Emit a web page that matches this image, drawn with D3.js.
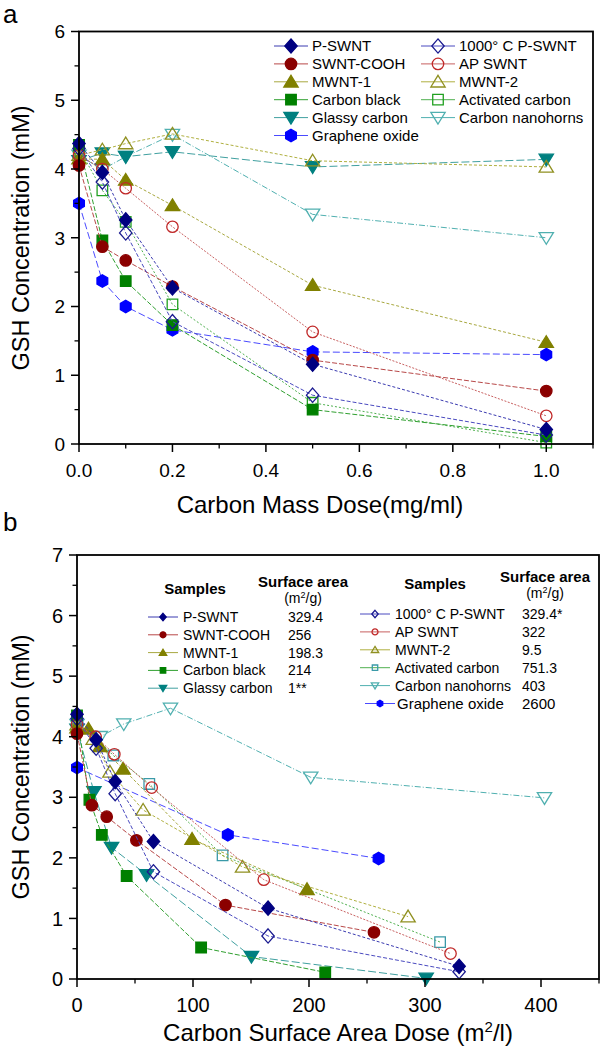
<!DOCTYPE html>
<html><head><meta charset="utf-8">
<script src="https://cdn.jsdelivr.net/npm/d3@7"></script>
<style>body{margin:0;background:#fff}svg{display:block}text{font-family:"Liberation Sans",Arial,Helvetica,sans-serif}</style>
</head><body><svg id="c" width="602" height="1050" font-family="Liberation Sans, Arial, sans-serif"></svg>
<script>
// ---------- DATA ----------
const seriesNames = ["P-SWNT","1000° C P-SWNT","SWNT-COOH","AP SWNT","MWNT-1","MWNT-2","Carbon black","Activated carbon","Glassy carbon","Carbon nanohorns","Graphene oxide"];
// panel a: x = carbon mass dose (mg/ml)
const massDose = [0, 0.05, 0.1, 0.2, 0.5, 1.0];
const aPSWNT     = [4.37, 3.95, 3.26, 2.27, 1.16, 0.21];
const aPSWNT1000 = [4.30, 3.81, 3.07, 1.78, 0.71, 0.13];
const aCOOH      = [4.05, 2.87, 2.67, 2.29, 1.22, 0.77];
const aAPSWNT    = [4.20, 4.00, 3.72, 3.16, 1.63, 0.41];
const aMWNT1     = [4.15, 4.14, 3.84, 3.47, 2.31, 1.48];
const aMWNT2     = [4.20, 4.28, 4.37, 4.51, 4.12, 4.03];
const aCBlack    = [4.35, 2.96, 2.37, 1.73, 0.50, 0.11];
const aActC      = [4.30, 3.69, 3.23, 2.03, 0.60, 0.02];
const aGlassy    = [4.12, 4.23, 4.18, 4.25, 4.03, 4.14];
const aHorns     = [4.20, 3.99, 4.18, 4.50, 3.34, 3.00];
const aGO        = [3.50, 2.37, 2.00, 1.66, 1.34, 1.30];
// panel b: x = carbon surface area dose (m2/l), y = GSH (mM)
const bxPSWNT = [0, 16.5, 32.9, 65.9, 164.7, 329.4];
const byPSWNT = [4.37, 3.95, 3.26, 2.27, 1.17, 0.21];
const bxPSWNT1000 = [0, 16.5, 32.9, 65.9, 164.7, 329.4];
const byPSWNT1000 = [4.30, 3.81, 3.06, 1.77, 0.71, 0.12];
const bxCOOH = [0, 12.8, 25.6, 51.2, 128, 256];
const byCOOH = [4.05, 2.87, 2.68, 2.29, 1.22, 0.77];
const bxAPSWNT = [0, 16.1, 32.2, 64.4, 161, 322];
const byAPSWNT = [4.20, 4.00, 3.71, 3.16, 1.64, 0.42];
const bxMWNT1 = [0, 9.9, 19.8, 39.7, 99.2, 198.3];
const byMWNT1 = [4.15, 4.13, 3.84, 3.47, 2.31, 1.48];
const bxMWNT2 = [0, 14, 28.4, 57, 142.7, 285.4];
const byMWNT2 = [4.20, 3.96, 3.42, 2.79, 1.85, 1.03];
const bxCBlack = [0, 10.7, 21.4, 42.8, 107, 214];
const byCBlack = [4.35, 2.96, 2.38, 1.70, 0.52, 0.11];
const bxActC = [0, 31.3, 62.3, 125.5, 313];
const byActC = [4.30, 3.69, 3.22, 2.04, 0.61];
const bxGlassy = [0, 14.6, 29.8, 60, 150.4, 301];
const byGlassy = [4.12, 3.09, 2.17, 1.72, 0.37, 0.01];
const bxHorns = [0, 20, 40.3, 80.6, 201.5, 403];
const byHorns = [4.20, 4.00, 4.21, 4.47, 3.33, 2.99];
const bxGO = [0, 130, 260];
const byGO = [3.49, 2.38, 1.99];
const surfaceArea = ["329.4","329.4*","256","322","198.3","9.5","214","751.3","1**","403","2600"];
const aXTicks = ["0.0","0.2","0.4","0.6","0.8","1.0"];
const bXTicks = ["0","100","200","300","400"];

// ---------- STYLES ----------
const sty = [
 {shape:"diamond", fill:"#000080", stroke:"#000080", line:"#3a3ab0", dash:"3,2"},
 {shape:"diamond", fill:"none", stroke:"#1a1a90", line:"#4a4ac0", dash:"4,2"},
 {shape:"circle", fill:"#8b0000", stroke:"#8b0000", line:"#b84848", dash:"5,2"},
 {shape:"circle", fill:"none", stroke:"#c02828", line:"#c86060", dash:"2,1.5"},
 {shape:"triUp", fill:"#808000", stroke:"#808000", line:"#a8a840", dash:"3,2"},
 {shape:"triUp", fill:"none", stroke:"#909020", line:"#b0b040", dash:"3,2"},
 {shape:"square", fill:"#008000", stroke:"#008000", line:"#30a030", dash:"5,2"},
 {shape:"square", fill:"none", stroke:"#20a020", line:"#50b050", dash:"2,2", strokeB:"#3a9aa8"},
 {shape:"triDown", fill:"#008080", stroke:"#008080", line:"#40a0a0", dash:"8,3"},
 {shape:"triDown", fill:"none", stroke:"#50b0b0", line:"#50b0b0", dash:"6,2,1,2"},
 {shape:"hex", fill:"#0000ff", stroke:"#0000ff", line:"#4a4aff", dash:"7,3"}
];
const aYs = [aPSWNT,aPSWNT1000,aCOOH,aAPSWNT,aMWNT1,aMWNT2,aCBlack,aActC,aGlassy,aHorns,aGO];
const bXs = [bxPSWNT,bxPSWNT1000,bxCOOH,bxAPSWNT,bxMWNT1,bxMWNT2,bxCBlack,bxActC,bxGlassy,bxHorns,bxGO];
const bYs = [byPSWNT,byPSWNT1000,byCOOH,byAPSWNT,byMWNT1,byMWNT2,byCBlack,byActC,byGlassy,byHorns,byGO];

const svg = d3.select("#c");

function markerPath(shape, r){
  if(shape==="hex"){
    const pts=d3.range(6).map(i=>{const a=Math.PI/3*i - Math.PI/2;return [r*Math.cos(a), r*Math.sin(a)];});
    return "M"+pts.map(p=>p.join(",")).join("L")+"Z";
  }
  if(shape==="diamond"){
    const w=r*1.0, h=r*1.15;
    return `M0,${-h}L${w},0L0,${h}L${-w},0Z`;
  }
  if(shape==="square"){
    const s=r*0.85;
    return `M${-s},${-s}H${s}V${s}H${-s}Z`;
  }
  if(shape==="triUp"||shape==="triDown"){
    const s=r*1.05;
    return `M0,${-s}L${s*1.1},${s*0.8}L${-s*1.1},${s*0.8}Z`;
  }
  return d3.symbol().type(d3.symbolCircle).size(Math.PI*r*r*0.85)();
}
function drawMarker(g, x, y, s, r, strokeOverride){
  g.append("path").attr("d", markerPath(s.shape, r))
    .attr("transform", `translate(${x},${y})` + (s.shape==="triDown"?" rotate(180)":""))
    .attr("fill", s.fill==="none"?"#fff":s.fill).attr("fill-opacity", s.fill==="none"?0:1)
    .attr("stroke", strokeOverride||s.stroke).attr("stroke-width", 1.3);
}

function axes(g, x, y, xTickVals, xLabels, xMinor, yMax, yMinor, fs){
  const [x0,x1]=x.range(), [y0,y1]=y.range();
  xMinor.forEach(v=>g.append("line").attr("x1",x(v)).attr("x2",x(v)).attr("y1",y0).attr("y2",y0+4.5).attr("stroke","#000").attr("stroke-width",1.3));
  yMinor.forEach(v=>g.append("line").attr("y1",y(v)).attr("y2",y(v)).attr("x1",x0).attr("x2",x0-4.5).attr("stroke","#000").attr("stroke-width",1.3));
  xTickVals.forEach((v,i)=>{
    g.append("line").attr("x1",x(v)).attr("x2",x(v)).attr("y1",y0).attr("y2",y0+8).attr("stroke","#000").attr("stroke-width",1.5);
    g.append("text").attr("x",x(v)).attr("y",y0+33).attr("text-anchor","middle").attr("font-size",fs).text(xLabels[i]);
  });
  d3.range(0,yMax+1).forEach(v=>{
    g.append("line").attr("y1",y(v)).attr("y2",y(v)).attr("x1",x0).attr("x2",x0-8).attr("stroke","#000").attr("stroke-width",1.5);
    g.append("text").attr("x",x0-14).attr("y",y(v)).attr("dy","0.36em").attr("text-anchor","end").attr("font-size",fs).text(v);
  });
  g.append("rect").attr("x",x0).attr("y",y1).attr("width",x1-x0).attr("height",y0-y1).attr("fill","none").attr("stroke","#000").attr("stroke-width",1.8);
}

function drawSeries(g, xs, ys, s, x, y, strokeB){
  const line = d3.line().x((d,i)=>x(xs[i])).y(d=>y(d));
  g.append("path").attr("d", line(ys)).attr("fill","none").attr("stroke", s.line).attr("stroke-width",1).attr("stroke-dasharray", s.dash);
  ys.forEach((v,i)=>drawMarker(g, x(xs[i]), y(v), s, 6.2, strokeB));
}

// ---------- PANEL A ----------
const ax = d3.scaleLinear().domain([0,1.1]).range([79,593]);
const ay = d3.scaleLinear().domain([0,6]).range([444,31.5]);
const ga = svg.append("g");
const order = [10,9,8,7,6,5,4,3,2,1,0];
order.forEach(k=>drawSeries(ga, massDose, aYs[k], sty[k], ax, ay));
axes(ga, ax, ay, [0,0.2,0.4,0.6,0.8,1.0], aXTicks, [0.1,0.3,0.5,0.7,0.9,1.1], 6, [0.5,1.5,2.5,3.5,4.5,5.5], 19);

const legA1=[0,2,4,6,8,10], legA2=[1,3,5,7,9];
function legendRowA(k, cx, ty){
  const s=sty[k];
  ga.append("line").attr("x1",cx-17).attr("x2",cx+17).attr("y1",ty).attr("y2",ty).attr("stroke",s.line).attr("stroke-width",1);
  drawMarker(ga, cx, ty, s, 6.2);
  ga.append("text").attr("x",cx+21).attr("y",ty).attr("dy","0.36em").attr("font-size",15).text(seriesNames[k]);
}
legA1.forEach((k,i)=>legendRowA(k, 291, 46+i*17.9));
legA2.forEach((k,i)=>legendRowA(k, 438, 46+i*17.9));

svg.append("text").attr("x",3).attr("y",23).attr("font-size",26).text("a");
svg.append("text").attr("x",320).attr("y",513).attr("text-anchor","middle").attr("font-size",24).text("Carbon Mass Dose(mg/ml)");
svg.append("text").attr("transform","translate(29,238) rotate(-90)").attr("text-anchor","middle").attr("font-size",23.5).text("GSH Concentration (mM)");

// ---------- PANEL B ----------
const bx = d3.scaleLinear().domain([0,450]).range([77,599]);
const by = d3.scaleLinear().domain([0,7]).range([979,555]);
const gb = svg.append("g");
order.forEach(k=>drawSeries(gb, bXs[k], bYs[k], sty[k], bx, by, sty[k].strokeB));
axes(gb, bx, by, [0,100,200,300,400], bXTicks, [50,150,250,350,450], 7, [0.5,1.5,2.5,3.5,4.5,5.5,6.5], 20);

const legB1=[0,2,4,6,8], legB2=[1,3,5,7,9,10];
function hdr(cx, y1, y2){
  gb.append("text").attr("x",cx[0]).attr("y",y1+5).attr("text-anchor","middle").attr("font-size",15).attr("font-weight","bold").text("Samples");
  gb.append("text").attr("x",cx[1]).attr("y",y1-2).attr("text-anchor","middle").attr("font-size",15).attr("font-weight","bold").text("Surface area");
  const t=gb.append("text").attr("x",cx[1]).attr("y",y2+5).attr("text-anchor","middle").attr("font-size",14);
  t.append("tspan").text("(m");
  t.append("tspan").attr("dy",-5).attr("font-size",9).text("2");
  t.append("tspan").attr("dy",5).text("/g)");
}
hdr([195,303],589,598);
hdr([435,545],584,593);
function legendRowB(k, cx, ty, tx, vx, fs){
  const s=sty[k];
  gb.append("line").attr("x1",cx-15).attr("x2",cx+15).attr("y1",ty).attr("y2",ty).attr("stroke",s.line).attr("stroke-width",1);
  drawMarker(gb, cx, ty, s, 3.2, s.strokeB);
  gb.append("text").attr("x",tx).attr("y",ty).attr("dy","0.36em").attr("font-size",fs).text(seriesNames[k]);
  gb.append("text").attr("x",vx).attr("y",ty).attr("dy","0.36em").attr("font-size",fs).text(surfaceArea[k]);
}
legB1.forEach((k,i)=>legendRowB(k, 163, 617+i*17.8, 183, 288, 14));
legB2.forEach((k,i)=>{
  if(k===10) legendRowB(k, 380, 614+i*17.9, 397, 522, 15);
  else legendRowB(k, 375, 614+i*17.9, 395, 522, 14);
});

svg.append("text").attr("x",3).attr("y",531).attr("font-size",26).text("b");
const tx=svg.append("text").attr("x",338).attr("y",1041).attr("text-anchor","middle").attr("font-size",24);
tx.append("tspan").text("Carbon Surface Area Dose (m");
tx.append("tspan").attr("dy",-9).attr("font-size",15).text("2");
tx.append("tspan").attr("dy",9).text("/l)");
svg.append("text").attr("transform","translate(29,767) rotate(-90)").attr("text-anchor","middle").attr("font-size",23.5).text("GSH Concentration (mM)");
</script></body></html>
